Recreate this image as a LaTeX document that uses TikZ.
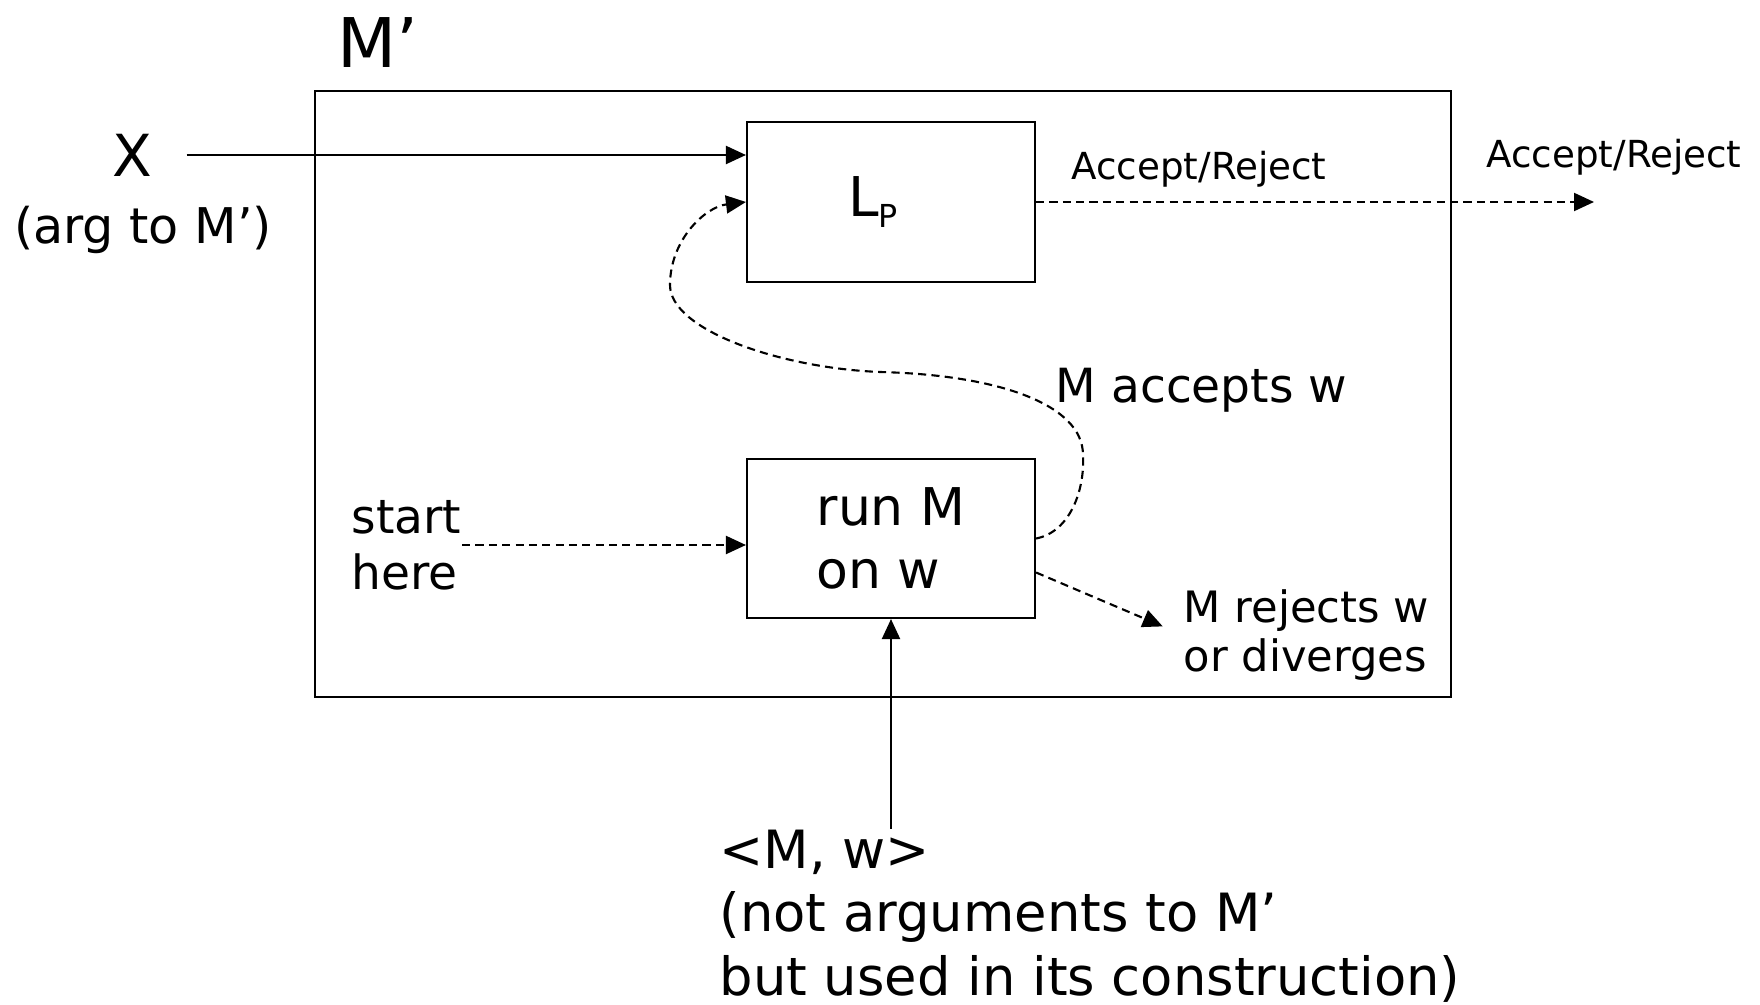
\documentclass[tikz,border=0pt]{standalone}
\usepackage{fontspec}
\setmainfont{DejaVu Sans}
\usetikzlibrary{arrows.meta, positioning, calc}

\begin{document}
\begin{tikzpicture}[
  box/.style={rectangle, draw, line width=0.6pt, minimum width=2.88cm, minimum height=1.6cm, align=left, inner sep=0pt},
  txt/.style={inner sep=0pt, align=left},
  arrow/.style={-{Triangle[length=2mm, width=1.8mm]}, line width=0.6pt},
  dasharrow/.style={arrow, dash pattern=on 2.3pt off 1.5pt}
]
  \useasboundingbox (0,0) rectangle (17.6,-10.05);

  % Machine M'
  \node[rectangle, draw, line width=0.6pt, minimum width=11.36cm, minimum height=6.06cm] (mprime) at (8.83,-3.94) {};
  \node[txt, font=\fontsize{19.5}{22}\selectfont] (mlabel) at (3.78,-0.43) {M’};

  % Inner boxes
  \node[box, font=\fontsize{15.6}{18}\selectfont] (lp) at (8.91,-2.02) {L\raisebox{-3.1pt}{\fontsize{9}{10}\selectfont P}\kern3.6mm};
  \node[box, minimum height=1.59cm, font=\fontsize{14.8}{17.9}\selectfont] (run) at (8.91,-5.385) {run M\\on w};

  % Input x
  \node[txt, font=\fontsize{16.5}{19}\selectfont] (x) at (1.32,-1.55) {X};
  \node[txt, font=\fontsize{14}{16}\selectfont] (arg) at (1.43,-2.30) {(arg to M’)};

  % Labels
  \node[txt, anchor=base, font=\fontsize{10.6}{12.5}\selectfont] (accin) at (11.99,-1.80) {Accept/Reject};
  \node[txt, anchor=base, font=\fontsize{10.6}{12.5}\selectfont] (accout) at (16.14,-1.68) {Accept/Reject};
  \node[txt, anchor=base west, font=\fontsize{13.4}{16}\selectfont] (acc) at (10.55,-4.03) {M accepts w};
  \node[txt, anchor=west, font=\fontsize{13.4}{15.9}\selectfont] (start) at (3.51,-5.45) {start\\here};
  \node[txt, anchor=west, font=\fontsize{12.3}{14}\selectfont] (rej) at (11.83,-6.35) {M rejects w\\or diverges};
  \node[txt, anchor=north west, font=\fontsize{15}{18.1}\selectfont] (mw) at (7.19,-8.29) {<M, w>\\(not arguments to M’\\but used in its construction)};

  \coordinate (out) at (15.94,-2.02);

  % Connectors
  \draw[arrow, shorten <=3.4mm] (x) -- (x -| lp.west);
  \draw[dasharrow] (lp.east) -- (out);
  \draw[dasharrow] (start.east) -- (start.east -| run.west);
  \draw[dasharrow, shorten >=2.2mm] ([yshift=-3.4mm]run.east) -- (rej.west);
  \draw[arrow] (run.south |- mw.north) -- (run.south);
  \draw[dasharrow] (run.east) .. controls (10.70,-5.32) and (10.85,-4.90) .. (10.83,-4.55)
    .. controls (10.83,-4.05) and (10.00,-3.75) .. (8.80,-3.72)
    .. controls (7.80,-3.68) and (6.70,-3.30) .. (6.70,-2.85)
    .. controls (6.70,-2.40) and (7.05,-2.07) .. (lp.west);
\end{tikzpicture}
\end{document}
